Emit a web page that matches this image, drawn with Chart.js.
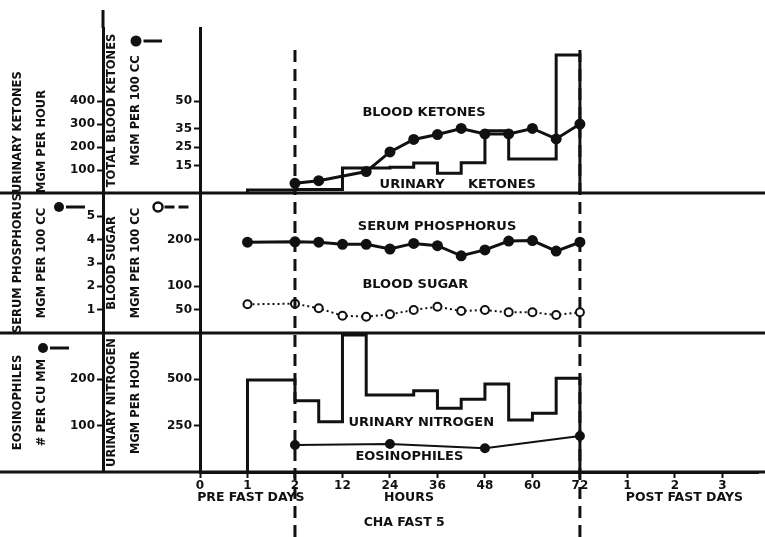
<!DOCTYPE html>
<html>
<head>
<meta charset="utf-8">
<title>CHA Fast 5</title>
<script src="https://cdn.jsdelivr.net/npm/chart.js@4/dist/chart.umd.min.js"></script>
<style>
  html, body { margin: 0; padding: 0; background: #fff; }
  #wrap { width: 765px; height: 537px; position: relative; }
</style>
</head>
<body>
<div id="wrap"><canvas id="fastChart"></canvas></div>
<script>
// x axis: pre fast days 0-2, the 72 hour fast (a tick every 12 h), post fast days
const xTickLabels = ["0", "1", "2", "12", "24", "36", "48", "60", "72", "1", "2", "3"];

// "d1" = pre fast day 1, numbers = hours of fast
const ukStarts = ["d1", 0, 12, 24, 30, 36, 42, 48, 54, 66];
const ukValues = [13, 15, 109, 112, 131, 86, 132, 272, 148, 602];

const bkHours = [0, 6, 18, 24, 30, 36, 42, 48, 54, 60, 66, 72];
const bkValues = [5.3, 6.7, 11.7, 22.4, 29.2, 31.9, 35.2, 32.2, 32.2, 35.2, 29.5, 37.6];

const labHours = ["d1", 0, 6, 12, 18, 24, 30, 36, 42, 48, 54, 60, 66, 72];
const phosValues = [3.89, 3.91, 3.89, 3.8, 3.8, 3.6, 3.84, 3.74, 3.31, 3.56, 3.94, 3.96, 3.51, 3.89];
const sugarValues = [61.5, 62.8, 52.9, 37.1, 34.9, 40.1, 49.3, 56.4, 47.1, 49.3, 44.3, 44.3, 38.6, 44.3];

const unStarts = ["d1", 0, 6, 12, 18, 30, 36, 42, 48, 54, 60, 66];
const unValues = [496, 385, 271, 739, 416, 439, 344, 392, 475, 281, 317, 506];

const eosHours = [0, 24, 48, 72];
const eosValues = [58.3, 60.4, 51.2, 77.7];

const ukTicks = [100, 200, 300, 400];
const bkTicks = [15, 25, 35, 50];
const phosTicks = [1, 2, 3, 4, 5];
const sugarTicks = [50, 100, 200];
const eosTicks = [100, 200];
const unTicks = [250, 500];

const FAST_END = 72;
const INK = "#111";
const FONT = "'DejaVu Sans', sans-serif";

// position on the x axis
function pos(t) {
  if (typeof t === "string") return Number(t.slice(1));
  return 2 + t / 12;
}

function points(times, values) {
  return times.map((t, i) => ({ x: pos(t), y: values[i] }));
}

// step line: rises from zero at the first start, drops back at end of fast
function steps(starts, values) {
  const pts = [{ x: pos(starts[0]), y: 0 }].concat(points(starts, values));
  pts.push({ x: pos(FAST_END), y: 0 });
  return pts;
}

function yAxis(stack, weight, stackWeight, max, ticks, title, width, titlePad, titleAlign) {
  return {
    type: "linear",
    position: "left",
    stack: stack,
    weight: weight,
    stackWeight: stackWeight,
    min: 0,
    max: max,
    afterBuildTicks: (s) => { s.ticks = ticks.map((v) => ({ value: v })); },
    afterFit: (s) => { s.width = width; },
    border: { display: true, color: INK, width: 3 },
    grid: { drawOnChartArea: false, color: INK, tickLength: 6, tickWidth: 2 },
    ticks: { color: INK, padding: 2, font: { family: FONT, size: 12, weight: "bold" } },
    title: {
      display: true,
      text: title,
      color: INK,
      align: titleAlign || "center",
      padding: { top: titlePad, bottom: 0 },
      font: { family: FONT, size: 11.5, weight: "bold", lineHeight: 2.1 },
    },
  };
}

const inChartLabels = [
  { text: "BLOOD KETONES", hour: 32.6, axis: "yBK", value: 44 },
  { text: "URINARY", hour: 29.6, axis: "yBK", value: 4.4 },
  { text: "KETONES", hour: 52.3, axis: "yBK", value: 4.4 },
  { text: "SERUM PHOSPHORUS", hour: 35.9, axis: "yP", value: 4.54 },
  { text: "BLOOD SUGAR", hour: 30.4, axis: "yP", value: 2.06 },
  { text: "URINARY NITROGEN", hour: 31.9, axis: "yN", value: 264 },
  { text: "EOSINOPHILES", hour: 28.9, axis: "yN", value: 81 },
];

const belowAxisLabels = [
  { text: "PRE FAST DAYS", at: 1.07, dy: 26 },
  { text: "HOURS", at: 4.4, dy: 26 },
  { text: "POST FAST DAYS", at: 10.2, dy: 26 },
  { text: "CHA FAST 5", at: 4.3, dy: 51 },
];

// legend keys drawn at the head of the axis columns
const keys = [
  { axis: "yBK", dx: 33, dy: 13, r: 5.5, open: false, dash: [] },
  { axis: "yP", dx: 59, dy: 14, r: 5, open: false, dash: [] },
  { axis: "yBS", dx: 55, dy: 14, r: 4.5, open: true, dash: [10, 4] },
  { axis: "yE", dx: 43, dy: 15, r: 5, open: false, dash: [] },
];

const framePlugin = {
  id: "frame",
  afterDraw(chart) {
    const { ctx, scales } = chart;
    const xs = scales.x;
    const seg = (x1, y1, x2, y2) => {
      ctx.beginPath();
      ctx.moveTo(x1, y1);
      ctx.lineTo(x2, y2);
      ctx.stroke();
    };
    ctx.save();
    ctx.strokeStyle = INK;
    ctx.fillStyle = INK;
    ctx.lineWidth = 3;
    [scales.yUK.bottom, scales.yP.bottom, xs.top].forEach((y) => seg(0, y, chart.width, y));
    seg(scales.yUK.right, 10, scales.yUK.right, scales.yUK.top);

    // start and end of the fast
    ctx.setLineDash([12, 7]);
    [0, FAST_END].forEach((h) => {
      const px = xs.getPixelForValue(pos(h));
      seg(px, 50, px, chart.height);
    });
    ctx.setLineDash([]);

    ctx.textAlign = "center";
    ctx.textBaseline = "middle";
    ctx.font = "bold 13px " + FONT;
    inChartLabels.forEach((l) => {
      ctx.fillText(l.text, xs.getPixelForValue(pos(l.hour)), scales[l.axis].getPixelForValue(l.value));
    });
    ctx.font = "bold 12.5px " + FONT;
    belowAxisLabels.forEach((l) => {
      ctx.fillText(l.text, xs.getPixelForValue(l.at), xs.top + l.dy);
    });

    keys.forEach((k) => {
      const s = scales[k.axis];
      const cx = s.left + k.dx;
      const cy = s.top + k.dy;
      ctx.lineWidth = 3;
      ctx.setLineDash(k.dash);
      seg(cx + k.r + 2, cy, cx + (k.open ? 34 : 26), cy);
      ctx.setLineDash([]);
      ctx.beginPath();
      ctx.arc(cx, cy, k.r, 0, Math.PI * 2);
      if (k.open) {
        ctx.fillStyle = "#fff";
        ctx.fill();
        ctx.lineWidth = 2.5;
        ctx.stroke();
        ctx.fillStyle = INK;
      } else {
        ctx.fill();
      }
    });
    ctx.restore();
  },
};

const ctx = document.getElementById("fastChart").getContext("2d");
new Chart(ctx, {
  type: "line",
  data: {
    datasets: [
      {
        label: "Urinary ketones",
        data: steps(ukStarts, ukValues),
        yAxisID: "yUK",
        stepped: true,
        borderColor: INK,
        borderWidth: 3,
        pointRadius: 0,
      },
      {
        label: "Blood ketones",
        data: points(bkHours, bkValues),
        yAxisID: "yBK",
        borderColor: INK,
        borderWidth: 3,
        pointRadius: 4,
        pointBackgroundColor: INK,
        pointBorderColor: INK,
      },
      {
        label: "Serum phosphorus",
        data: points(labHours, phosValues),
        yAxisID: "yP",
        borderColor: INK,
        borderWidth: 3,
        pointRadius: 4,
        pointBackgroundColor: INK,
        pointBorderColor: INK,
      },
      {
        label: "Blood sugar",
        data: points(labHours, sugarValues),
        yAxisID: "yBS",
        borderColor: INK,
        borderWidth: 2,
        borderDash: [2, 3],
        pointRadius: 4,
        pointBorderWidth: 2,
        pointBackgroundColor: "#fff",
        pointBorderColor: INK,
      },
      {
        label: "Urinary nitrogen",
        data: steps(unStarts, unValues),
        yAxisID: "yN",
        stepped: true,
        borderColor: INK,
        borderWidth: 3,
        pointRadius: 0,
      },
      {
        label: "Eosinophiles",
        data: points(eosHours, eosValues),
        yAxisID: "yE",
        borderColor: INK,
        borderWidth: 2,
        pointRadius: 4,
        pointBackgroundColor: INK,
        pointBorderColor: INK,
      },
    ],
  },
  options: {
    responsive: true,
    maintainAspectRatio: false,
    animation: false,
    layout: { padding: { top: 28, left: 0, right: 0, bottom: 0 } },
    plugins: { legend: { display: false }, tooltip: { enabled: false } },
    scales: {
      x: {
        type: "linear",
        min: 0,
        max: 11.75,
        afterBuildTicks: (s) => { s.ticks = xTickLabels.map((_, i) => ({ value: i })); },
        afterFit: (s) => { s.height = 65; },
        border: { display: true, color: INK, width: 3 },
        grid: { drawOnChartArea: false, color: INK, tickLength: 6, tickWidth: 2 },
        ticks: {
          autoSkip: false,
          maxRotation: 0,
          padding: 1,
          color: INK,
          font: { family: FONT, size: 12, weight: "bold" },
          callback: (v, i) => xTickLabels[i],
        },
      },
      yUK: yAxis("outer", 6, 165, 720, ukTicks, ["URINARY KETONES", "MGM PER HOUR"], 103, 6, "start"),
      yP: yAxis("outer", 5, 140, 6, phosTicks, ["SERUM PHOSPHORUS", "MGM PER 100 CC"], 103, 6),
      yE: yAxis("outer", 4, 139, 300, eosTicks, ["EOSINOPHILES", "# PER CU MM"], 103, 6),
      yBK: yAxis("inner", 3, 165, 90, bkTicks, ["TOTAL BLOOD KETONES", "MGM PER 100 CC"], 97, -3),
      yBS: yAxis("inner", 2, 140, 300, sugarTicks, ["BLOOD SUGAR", "MGM PER 100 CC"], 97, -3),
      yN: yAxis("inner", 1, 139, 750, unTicks, ["URINARY NITROGEN", "MGM PER HOUR"], 97, -3),
    },
  },
  plugins: [framePlugin],
});
</script>
</body>
</html>
